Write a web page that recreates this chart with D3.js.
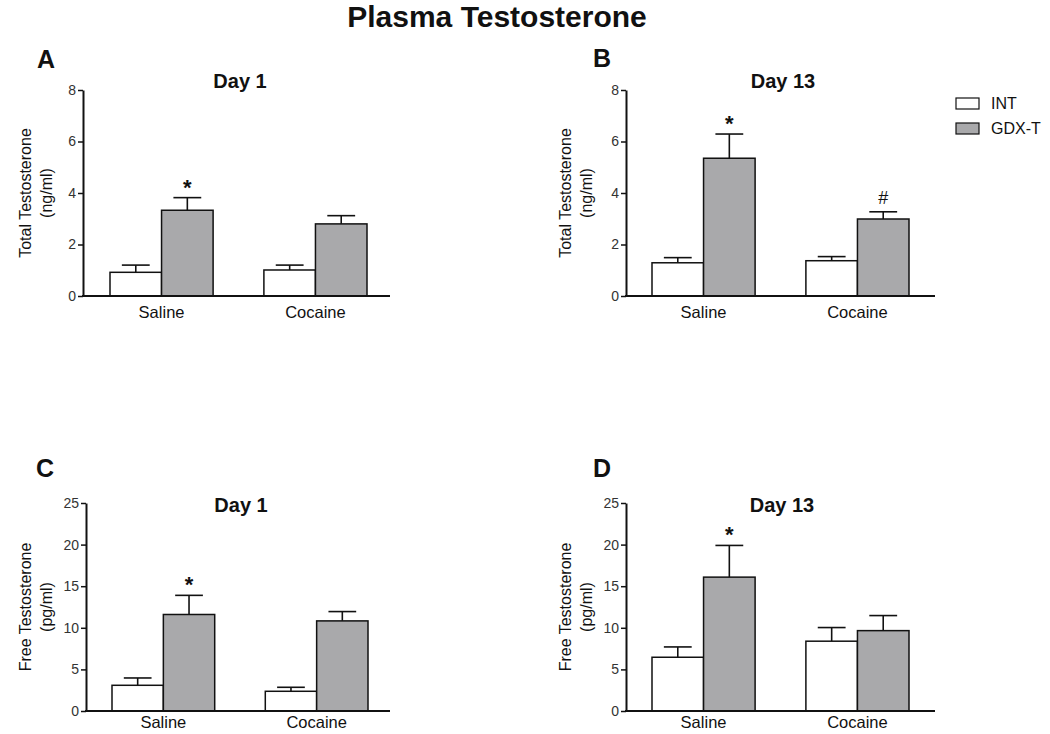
<!DOCTYPE html>
<html>
<head>
<meta charset="utf-8">
<script src="https://cdn.jsdelivr.net/npm/d3@7"></script>
<style>
  html, body { margin: 0; padding: 0; background: #fff; }
  svg { display: block; font-family: "Liberation Sans", Arial, sans-serif; }
</style>
</head>
<body>
<svg id="chart" width="1050" height="734"></svg>
<script>
// ---------------- DATA ----------------
const mainTitle = "Plasma Testosterone";
const categories = ["Saline", "Cocaine"];
const groups = ["INT", "GDX-T"];
const panelLetters = ["A", "B", "C", "D"];
const panelTitles = ["Day 1", "Day 13", "Day 1", "Day 13"];
const yLabelLines = [
  ["Total Testosterone", "(ng/ml)"],
  ["Total Testosterone", "(ng/ml)"],
  ["Free Testosterone", "(pg/ml)"],
  ["Free Testosterone", "(pg/ml)"]
];
const yMax = [8, 8, 25, 25];
const yTicks = [
  [0, 2, 4, 6, 8],
  [0, 2, 4, 6, 8],
  [0, 5, 10, 15, 20, 25],
  [0, 5, 10, 15, 20, 25]
];
// per panel: [Saline, Cocaine]
const intMeans = [[0.92, 1.01], [1.29, 1.37], [3.09, 2.37], [6.46, 8.39]];
const intSEM   = [[0.28, 0.19], [0.20, 0.16], [0.88, 0.48], [1.24, 1.64]];
const gdxMeans = [[3.33, 2.80], [5.35, 2.99], [11.6, 10.83], [16.09, 9.66]];
const gdxSEM   = [[0.49, 0.32], [0.94, 0.28], [2.30, 1.12], [3.81, 1.81]];
const gdxMarks = [["*", ""], ["*", "#"], ["*", ""], ["*", ""]];

// ---------------- LAYOUT ----------------
const frames = [
  { x0: 83,  x1: 390, yTop: 90,  yBot: 296, bandL: 27, bandR: 23, letterX: 37,  letterY: 68,  titleX: 240, titleY: 88,  lab1X: 25,  lab2X: 46,  catPad: 10 },
  { x0: 626, x1: 935, yTop: 90,  yBot: 296, bandL: 26, bandR: 26, letterX: 593, letterY: 67,  titleX: 783, titleY: 88,  lab1X: 565, lab2X: 586, catPad: 10 },
  { x0: 86,  x1: 390, yTop: 503, yBot: 711, bandL: 26, bandR: 22, letterX: 36,  letterY: 477, titleX: 241, titleY: 512, lab1X: 25,  lab2X: 46,  catPad: 5 },
  { x0: 626, x1: 935, yTop: 503, yBot: 711, bandL: 26, bandR: 26, letterX: 593, letterY: 477, titleX: 782, titleY: 512, lab1X: 565, lab2X: 586, catPad: 5 }
];
const colors = { "INT": "#ffffff", "GDX-T": "#a9a9ab" };
const textColor = "#111";

const svg = d3.select("#chart");

svg.append("text")
  .attr("x", 497).attr("y", 27)
  .attr("text-anchor", "middle")
  .attr("font-size", 30).attr("font-weight", "bold")
  .attr("fill", textColor)
  .text(mainTitle);

panelLetters.forEach((letter, i) => {
  const f = frames[i];
  const g = svg.append("g");

  const y = d3.scaleLinear().domain([0, yMax[i]]).range([f.yBot, f.yTop]);
  const x = d3.scaleBand().domain(categories)
    .range([f.x0 + f.bandL, f.x1 - f.bandR]).paddingInner(0.33).paddingOuter(0);
  const xs = d3.scaleBand().domain(groups).range([0, x.bandwidth()]).padding(0);

  // letter and title
  g.append("text").attr("x", f.letterX).attr("y", f.letterY)
    .attr("font-size", 25).attr("font-weight", "bold").attr("fill", textColor)
    .text(letter);
  g.append("text").attr("x", f.titleX).attr("y", f.titleY)
    .attr("text-anchor", "middle")
    .attr("font-size", 20).attr("font-weight", "bold").attr("fill", textColor)
    .text(panelTitles[i]);

  // y label
  const cy = (f.yTop + f.yBot) / 2;
  [f.lab1X, f.lab2X].forEach((lx, k) => {
    g.append("text")
      .attr("transform", `translate(${lx},${cy}) rotate(-90)`)
      .attr("text-anchor", "middle")
      .attr("dominant-baseline", "central")
      .attr("font-size", 16).attr("fill", textColor)
      .text(yLabelLines[i][k]);
  });

  // bars data
  const rows = [];
  categories.forEach((c, ci) => {
    rows.push({ cat: c, grp: "INT", mean: intMeans[i][ci], sem: intSEM[i][ci], mark: "" });
    rows.push({ cat: c, grp: "GDX-T", mean: gdxMeans[i][ci], sem: gdxSEM[i][ci], mark: gdxMarks[i][ci] });
  });

  const capW = xs.bandwidth() * 0.54;
  // error bars (drawn under bars so only upper half shows)
  const eb = g.append("g").attr("stroke", "#111").attr("stroke-width", 1.6);
  rows.forEach(r => {
    const cx = x(r.cat) + xs(r.grp) + xs.bandwidth() / 2;
    eb.append("line").attr("x1", cx).attr("x2", cx)
      .attr("y1", y(r.mean)).attr("y2", y(r.mean + r.sem));
    eb.append("line").attr("x1", cx - capW / 2).attr("x2", cx + capW / 2)
      .attr("y1", y(r.mean + r.sem)).attr("y2", y(r.mean + r.sem));
  });

  g.append("g").selectAll("rect").data(rows).join("rect")
    .attr("x", d => x(d.cat) + xs(d.grp))
    .attr("y", d => y(d.mean))
    .attr("width", xs.bandwidth())
    .attr("height", d => y(0) - y(d.mean))
    .attr("fill", d => colors[d.grp])
    .attr("stroke", "#111").attr("stroke-width", 1.5);

  // significance marks
  rows.filter(r => r.mark).forEach(r => {
    const cx = x(r.cat) + xs(r.grp) + xs.bandwidth() / 2;
    const top = y(r.mean + r.sem);
    g.append("text")
      .attr("x", cx)
      .attr("y", r.mark === "*" ? top - 3 : top - 8)
      .attr("text-anchor", "middle")
      .attr("font-size", r.mark === "*" ? 22 : 18)
      .attr("font-weight", r.mark === "*" ? "bold" : "normal")
      .attr("fill", textColor)
      .text(r.mark);
  });

  // y axis
  const yAxis = g.append("g").attr("transform", `translate(${f.x0},0)`)
    .call(d3.axisLeft(y).tickValues(yTicks[i]).tickSize(5).tickSizeOuter(0).tickPadding(2));
  yAxis.select(".domain").attr("stroke", "#111").attr("stroke-width", 2);
  yAxis.selectAll(".tick line").attr("stroke", "#111").attr("stroke-width", 1.5);
  yAxis.selectAll(".tick text").attr("font-size", 14).attr("fill", "#333")
    .attr("font-family", "Liberation Sans, Arial, sans-serif");

  // x axis
  const xAxisScale = d3.scaleBand().domain(categories).range([f.x0 + f.bandL, f.x1 - f.bandR]).paddingInner(0.33);
  const xAxis = g.append("g").attr("transform", `translate(0,${f.yBot})`)
    .call(d3.axisBottom(xAxisScale).tickSize(0).tickSizeOuter(0).tickPadding(f.catPad));
  xAxis.select(".domain").remove();
  g.append("line").attr("x1", f.x0 - 1).attr("x2", f.x1)
    .attr("y1", f.yBot).attr("y2", f.yBot)
    .attr("stroke", "#111").attr("stroke-width", 2);
  xAxis.selectAll(".tick text").attr("font-size", 16.5).attr("fill", textColor)
    .attr("font-family", "Liberation Sans, Arial, sans-serif");
});

// legend
const leg = svg.append("g");
groups.forEach((gname, k) => {
  const ly = 98 + k * 25;
  leg.append("rect").attr("x", 956).attr("y", ly).attr("width", 23).attr("height", 11)
    .attr("fill", colors[gname]).attr("stroke", "#111").attr("stroke-width", 1.2);
  leg.append("text").attr("x", 991).attr("y", ly + 11)
    .attr("font-size", 16).attr("fill", textColor).text(gname);
});
</script>
</body>
</html>
